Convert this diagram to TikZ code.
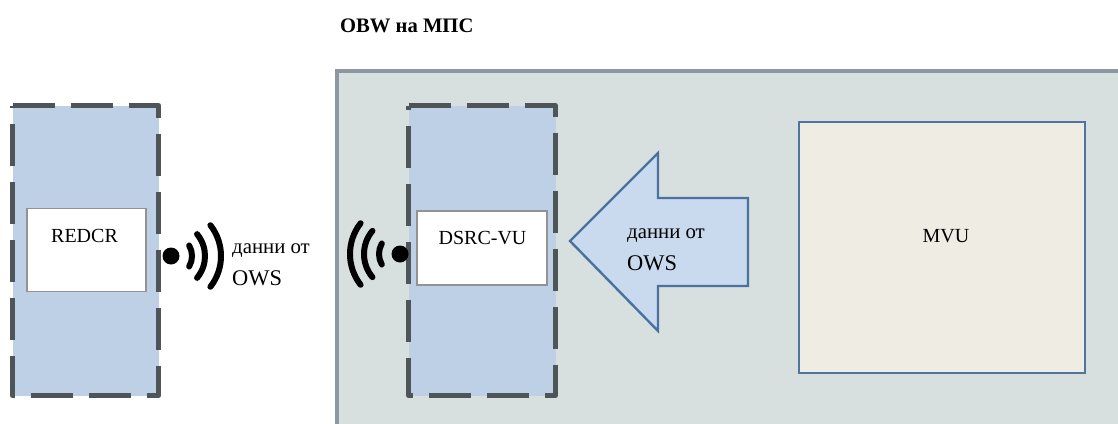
\documentclass[tikz,border=0pt]{standalone}
\usepackage{fontspec}
\setmainfont{Liberation Serif}
\definecolor{panelfill}{HTML}{D7E0DE}
\definecolor{panelline}{HTML}{8D979F}
\definecolor{unitfill}{HTML}{BDD0E6}
\definecolor{dashcol}{HTML}{4D5558}
\definecolor{arrowfill}{HTML}{C9D9EE}
\definecolor{arrowline}{HTML}{4A72A0}
\definecolor{mvufill}{HTML}{EFECE3}
\definecolor{mvuline}{HTML}{4E74A3}
\tikzset{
  x=1pt,y=-1pt,
  unitbox/.style={fill=unitfill,inner sep=0pt,outer sep=0pt,anchor=north west},
  whitebox/.style={fill=white,draw=gray!85,line width=1.2pt,inner sep=0pt,outer sep=0pt,anchor=north west},
  dashline/.style={draw=dashcol,line width=5pt,dash pattern=on 42pt off 16pt,line join=round},
  wave/.style={draw=black,line width=6pt,line cap=round},
  lbl/.style={font=\fontsize{20}{22}\selectfont,align=left,anchor=west,inner sep=0pt},
  cyr/.style={font=\fontsize{20.8}{22}\selectfont,anchor=west,inner sep=0pt},
  lat/.style={font=\fontsize{22.4}{24}\selectfont,anchor=west,inner sep=0pt},
}
\begin{document}
\begin{tikzpicture}
\useasboundingbox (0,0) rectangle (1118,423);
\fill[white] (0,0) rectangle (1118,423);
% panel
\coordinate (pa) at (337,425);
\coordinate (pb) at (337,71);
\coordinate (pc) at (1120,71);
\coordinate (pd) at (1120,425);
\fill[panelfill] (pa) -- (pb) -- (pc) -- (pd) -- cycle;
\draw[panelline,line width=4pt] (pa) -- (pb) -- (pc);
\node[anchor=west,inner sep=0pt,font=\fontsize{20.6}{22}\selectfont\bfseries] (title) at (340,26) {OBW на МПС};
% left unit
\node[unitbox,minimum width=146pt,minimum height=290pt] (redu) at (12.5,105.5) {};
\draw[dashline] (redu.north west) -- (redu.north east) -- (redu.south east) -- (redu.south west) -- cycle;
\node[whitebox,minimum width=119pt,minimum height=83pt] (redcr) at (27,208.5) {};
\node[lbl,anchor=center] (redcrt) at (84.5,236) {REDCR};
% right unit
\node[unitbox,minimum width=147pt,minimum height=290pt] (dsu) at (408.5,105.5) {};
\draw[dashline] (dsu.north west) -- (dsu.north east) -- (dsu.south east) -- (dsu.south west) -- cycle;
\node[whitebox,minimum width=130pt,minimum height=74pt] (dsrc) at (417,211) {};
\node[lbl,anchor=center] (dsrct) at (482.5,238) {DSRC-VU};
% wireless left
\node[circle,fill=black,minimum size=17pt,inner sep=0pt] (dl) at (171,256) {};
\draw[wave] (dl.center) ++(-30:21) arc (-30:30:21);
\draw[wave] (dl.center) ++(-40:34) arc (-40:40:34);
\draw[wave] (dl.center) ++(-38:50) arc (-38:38:50);
% wireless right
\node[circle,fill=black,minimum size=17pt,inner sep=0pt] (dr) at (400,254) {};
\draw[wave] (dr.center) ++(150:21) arc (150:210:21);
\draw[wave] (dr.center) ++(140:36) arc (140:220:36);
\draw[wave] (dr.center) ++(142:50) arc (142:218:50);
% labels
\node[cyr] (l1) at (232,251) {данни от};
\node[lat] (l2) at (232,278) {OWS};
% arrow
\coordinate (a0) at (570,241);
\coordinate (a1) at (658,153);
\coordinate (a2) at (658,198);
\coordinate (a3) at (748,198);
\coordinate (a4) at (748,286);
\coordinate (a5) at (658,286);
\coordinate (a6) at (658,331);
\filldraw[fill=arrowfill,draw=arrowline,line width=2.4pt,line join=miter] (a0) -- (a1) -- (a2) -- (a3) -- (a4) -- (a5) -- (a6) -- cycle;
\node[cyr] (l3) at (627,236) {данни от};
\node[lat] (l4) at (627,263) {OWS};
% MVU
\node[fill=mvufill,draw=mvuline,line width=2.4pt,inner sep=0pt,outer sep=0pt,anchor=north west,minimum width=286pt,minimum height=251pt] (mvu) at (799,122) {};
\node[lbl,anchor=center] (mvut) at (946,236) {MVU};
\end{tikzpicture}
\end{document}
